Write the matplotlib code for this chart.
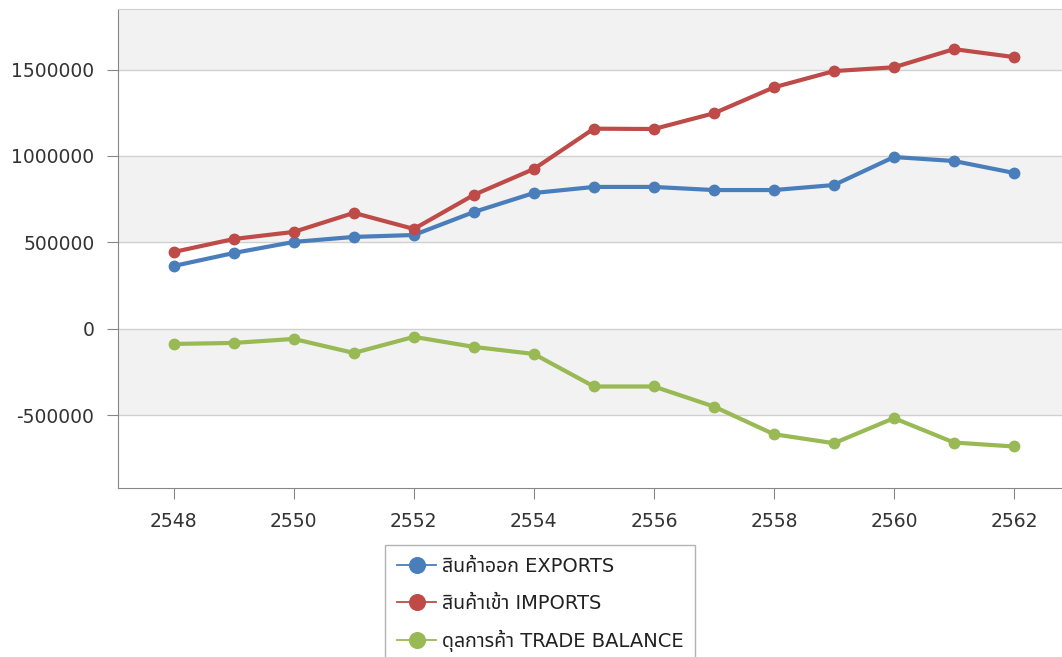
import matplotlib
matplotlib.use("Agg")
import matplotlib.pyplot as plt
import numpy as np

# data
years = [2548, 2549, 2550, 2551, 2552, 2553, 2554, 2555, 2556, 2557, 2558, 2559, 2560, 2561, 2562]
exports = [364000, 439000, 503000, 532000, 543000, 676000, 786000, 821000, 821000, 803000, 803000, 832000, 994000, 971000, 902000]
imports = [445000, 520000, 561000, 671000, 578000, 775000, 925000, 1158000, 1156000, 1247000, 1397000, 1491000, 1513000, 1618000, 1572000]
balance = [-87000, -81000, -58000, -139000, -46000, -104000, -145000, -333000, -333000, -449000, -609000, -661000, -516000, -657000, -680000]
labels = ["สินค้าออก EXPORTS", "สินค้าเข้า IMPORTS", "ดุลการค้า TRADE BALANCE"]
colors = ["#4a7ebb", "#be4b48", "#98b954"]

plt.rcParams['font.family'] = ['DejaVu Sans', 'Noto Sans Thai', 'Noto Sans', 'Noto Sans CJK SC']

fig = plt.figure(figsize=(10.62, 6.57), dpi=100)
ax = fig.add_axes([118/1062, 1-488/657, 1-118/1062, (488-9)/657])

ylo, yhi = -920000, 1850000
yt = [-500000, 0, 500000, 1000000, 1500000]
# alternating bands
edges = [ylo] + yt + [yhi]
for i in range(len(edges)-1):
    if i % 2 == 1:
        ax.axhspan(edges[i], edges[i+1], color="#f2f2f2", zorder=0, lw=0)

for y, c, lab in zip([exports, imports, balance], colors, labels):
    ax.plot(years, y, color=c, lw=3, marker="o", ms=7.5, label=lab, zorder=3)

ax.set_xlim(2547.07, 2562.8)
ax.set_ylim(ylo, yhi)
ax.set_yticks(yt)
ax.set_yticklabels([str(v) for v in yt])
ax.set_xticks(range(2548, 2563, 2))
ax.grid(axis="y", color="#d0d0d0", lw=1)
ax.set_axisbelow(True)
ax.spines["right"].set_visible(False)
ax.spines["top"].set_color("#d0d0d0")
ax.spines["left"].set_color("#868686")
ax.spines["bottom"].set_color("#868686")
ax.tick_params(colors="#868686", length=8, labelcolor="#333333", labelsize=13.5)
ax.tick_params(axis="y", pad=9)
ax.tick_params(axis="x", pad=9)

leg = ax.legend(loc="upper left", bbox_to_anchor=(385/1062, 1-545/657), bbox_transform=fig.transFigure,
                frameon=True, fancybox=False, fontsize=14, handlelength=2.0, labelspacing=0.9,
                borderaxespad=0, handletextpad=0.3, borderpad=0.62, markerscale=1.5,
                labelcolor="#222222")
leg.get_frame().set_edgecolor("#a0a0a0")
leg.get_frame().set_linewidth(1)
for h in leg.get_lines():
    h.set_linewidth(1.3)

fig.savefig("out.png", dpi=100)
